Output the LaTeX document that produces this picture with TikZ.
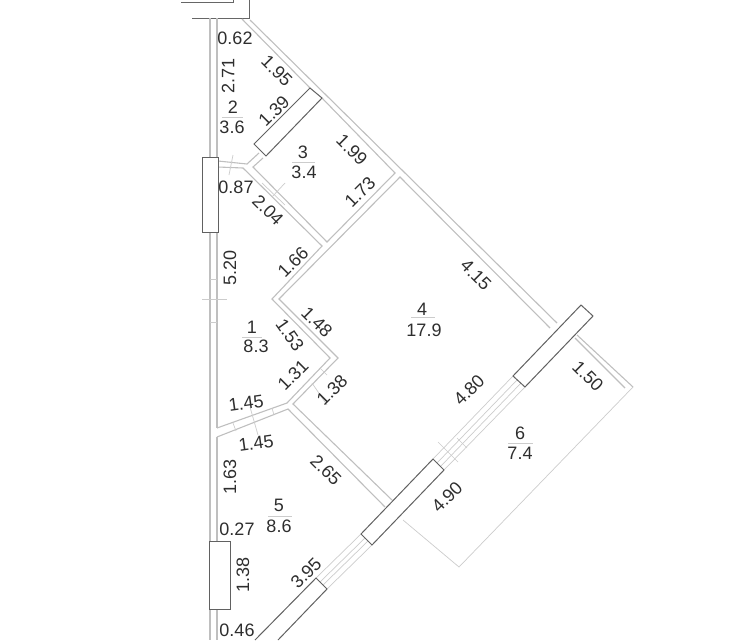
\documentclass[tikz,border=0pt]{standalone}
\usepackage{fontspec}
\setmainfont{Liberation Sans}
\begin{document}
\begin{tikzpicture}[x=1pt,y=-1pt]
	\tikzstyle{wall}=[draw=black!25,line width=1.1pt]
	\tikzstyle{thinline}=[draw=black!20,line width=0.7pt]
	\tikzstyle{frame}=[draw=black!62,line width=1pt,fill=white]
	\tikzstyle{num}=[inner sep=0pt,text=black!82,font=\fontsize{18}{18}\selectfont]

	\useasboundingbox (0,0) rectangle (738,640);

	% stair block at the top
	\draw[draw=black!60,line width=0.9pt] (181,2) -- (233,2) -- (233,0);
	\draw[draw=black!60,line width=0.9pt] (192,18) -- (249,18) -- (249,0);

	% left wall
	\draw[wall] (210,18) -- (210,157);
	\draw[wall] (217,18) -- (217,157);
	\draw[wall] (210,232) -- (210,541);
	\draw[wall] (217,232) -- (217,428);
	\draw[wall] (217,437) -- (217,541);
	\draw[wall] (210,609) -- (210,640);
	\draw[wall] (217,609) -- (217,640);

	% outer diagonal
	\draw[wall] (242,19) -- (310,88);
	\draw[wall] (250,20) -- (557,323);
	\draw[wall] (322,98) -- (395,173) -- (327,242) -- (253,167) -- (263,158);
	\draw[wall] (550,328) -- (400,177) -- (279,299) -- (338,358) -- (293,404) -- (392,500);

	% partitions
	\draw[wall] (218,161) -- (247,164) -- (259,153);
	\draw[wall] (218,167) -- (243,168) -- (322,246) -- (272,299) -- (330,358) -- (287,403) -- (217,428);
	\draw[wall] (217,437) -- (288,409) -- (385,507);

	% balcony
	\draw[wall] (577,335) -- (633,387);
	\draw[wall] (575,338) -- (625,388);
	\draw[thinline] (633,387) -- (459,567) -- (403,520);

	% glazing between the frames
	\draw[thinline] (513,376) -- (433,459);
	\draw[thinline] (517,380) -- (437,463);
	\draw[thinline] (521,383) -- (440,467);
	\draw[thinline] (525,387) -- (444,470);
	\draw[thinline] (361,534) -- (316,578);
	\draw[thinline] (365,538) -- (320,582);
	\draw[thinline] (368,541) -- (323,585);
	\draw[thinline] (372,545) -- (327,589);

	% frames
	\draw[frame] (202,157) rectangle (218,232);
	\draw[frame] (209,541) rectangle (230,609);
	\draw[frame] (310,88) -- (322,98) -- (266,156) -- (254,144) -- cycle;
	\draw[frame] (581,305) -- (593,316) -- (525,387) -- (513,376) -- cycle;
	\draw[frame] (433,459) -- (444,470) -- (372,545) -- (361,534) -- cycle;
	\draw[frame] (255,640) -- (316,578) -- (327,589) -- (278,640);

	% dimension ticks
	\draw[thinline] (233,155) -- (229,175);
	\draw[thinline] (285,183) -- (272,197);
	\draw[thinline] (262,183) -- (285,205);
	\draw[thinline] (202,299) -- (227,299);
	\draw[thinline] (210,279) -- (217,279);
	\draw[thinline] (210,322) -- (217,322);
	\draw[thinline] (250,407) -- (258,435);
	\draw[thinline] (233,423) -- (236,431);
	\draw[thinline] (272,408) -- (274,415);
	\draw[thinline] (312,383) -- (327,405);
	\draw[thinline] (320,368) -- (327,375);
	\draw[thinline] (438,442) -- (458,462);
	\draw[thinline] (457,438) -- (467,448);

	% rooms
	\node[num](n2) at (233,107){2};
	\node[num](a2) at (232,127){3.6};
	\draw[thinline] (222,117) -- (243,117);
	\node[num](n3) at (303,152){3};
	\node[num](a3) at (304,172){3.4};
	\draw[thinline] (292,162) -- (315,162);
	\node[num](n1) at (252,327){1};
	\node[num](a1) at (256,346){8.3};
	\draw[thinline] (242,337) -- (262,337);
	\node[num](n4) at (422,309){4};
	\node[num](a4) at (424,330){17.9};
	\draw[thinline] (411,317) -- (435,317);
	\node[num](n5) at (279,505){5};
	\node[num](a5) at (279,526){8.6};
	\draw[thinline] (268,516) -- (292,516);
	\node[num](n6) at (520,433){6};
	\node[num](a6) at (520,453){7.4};
	\draw[thinline] (508,443) -- (533,443);

	% dimensions
	\node[num](d062) at (235,38){0.62};
	\node[num,rotate=90](d271) at (228,76){2.71};
	\node[num,rotate=-45](d195) at (277,71){1.95};
	\node[num,rotate=45](d139) at (274,111){1.39};
	\node[num,rotate=-45](d199) at (352,150){1.99};
	\node[num,rotate=45](d173) at (360,192){1.73};
	\node[num](d087) at (236,187){0.87};
	\node[num,rotate=-45](d204) at (268,210){2.04};
	\node[num,rotate=45](d166) at (293,262){1.66};
	\node[num,rotate=90](d520) at (230,268){5.20};
	\node[num,rotate=-45](d148) at (317,322){1.48};
	\node[num,rotate=-55](d153) at (290,335){1.53};
	\node[num,rotate=45](d131) at (293,375){1.31};
	\node[num,rotate=45](d138a) at (332,390){1.38};
	\node[num,rotate=8](d145a) at (246,403){1.45};
	\node[num,rotate=8](d145b) at (256,443){1.45};
	\node[num,rotate=-45](d415) at (476,275){4.15};
	\node[num,rotate=45](d480) at (469,390){4.80};
	\node[num,rotate=-45](d150) at (588,376){1.50};
	\node[num,rotate=45](d490) at (447,497){4.90};
	\node[num,rotate=-45](d265) at (326,470){2.65};
	\node[num,rotate=90](d163) at (230,477){1.63};
	\node[num](d027) at (237,529){0.27};
	\node[num,rotate=90](d138b) at (243,575){1.38};
	\node[num,rotate=45](d395) at (306,573){3.95};
	\node[num](d046) at (237,630){0.46};
\end{tikzpicture}
\end{document}
